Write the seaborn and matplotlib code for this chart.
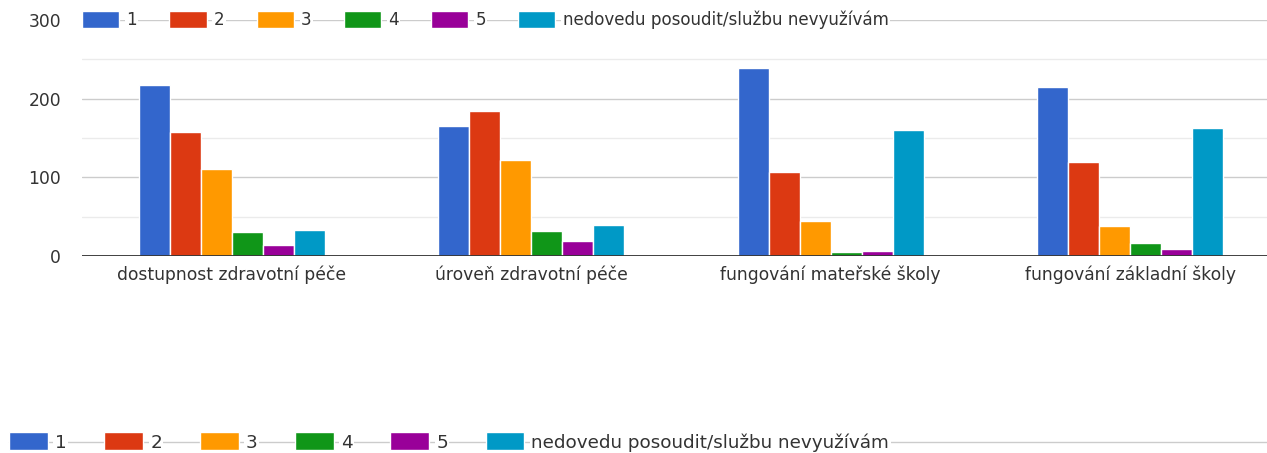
import pandas as pd
import matplotlib.pyplot as plt
import seaborn as sns
from matplotlib.lines import Line2D
from matplotlib.ticker import MultipleLocator

categories = [
    "dostupnost zdravotní péče",
    "úroveň zdravotní péče",
    "fungování mateřské školy",
    "fungování základní školy",
]
ratings = ["1", "2", "3", "4", "5", "nedovedu posoudit/službu nevyužívám"]
colors = ["#3366cc", "#dc3912", "#ff9900", "#109618", "#990099", "#0099c6"]

r1 = [217, 165, 239, 215]
r2 = [158, 184, 107, 119]
r3 = [110, 122, 44, 38]
r4 = [30, 32, 5, 16]
r5 = [14, 19, 6, 9]
r_na = [33, 39, 160, 163]

series = [r1, r2, r3, r4, r5, r_na]
rows = []
for rating, vals in zip(ratings, series):
    for cat, v in zip(categories, vals):
        rows.append({"category": cat, "rating": rating, "count": v})
df = pd.DataFrame(rows)

sns.set_style("white")
plt.rcParams["font.family"] = ["DejaVu Sans"]
text_col = "#333333"

W, H = 1267, 453
fig = plt.figure(figsize=(W / 100, H / 100), dpi=100)
ax = fig.add_axes([82 / W, 1 - 256 / H, 1 - 82 / W, (256 - 20) / H])

sns.barplot(
    data=df, x="category", y="count", hue="rating",
    order=categories, hue_order=ratings, palette=colors,
    width=0.62, edgecolor="white", linewidth=1, saturation=1, ax=ax,
)

ax.set_ylim(0, 300)
ax.set_xlim(-0.5, 3.457)
ax.yaxis.set_major_locator(MultipleLocator(100))
ax.yaxis.set_minor_locator(MultipleLocator(50))
ax.grid(axis="y", which="major", color="#cccccc", lw=1)
ax.grid(axis="y", which="minor", color="#ebebeb", lw=1)
ax.set_axisbelow(True)
ax.axhline(0, color="#333333", lw=1.3, zorder=3)
for s in ax.spines.values():
    s.set_visible(False)
ax.set_xlabel("")
ax.set_ylabel("")
ax.tick_params(axis="x", length=0, pad=7, labelsize=12.3, labelcolor=text_col)
ax.tick_params(axis="y", which="both", length=0, pad=15, labelsize=12.3, labelcolor=text_col)

handles, labels = ax.get_legend_handles_labels()
ax.get_legend().remove()

top = fig.legend(
    handles, labels, loc="center left",
    bbox_to_anchor=(82 / W, 1 - 20 / H), ncol=6, frameon=False,
    fontsize=12.1, borderpad=0, borderaxespad=0,
    handlelength=2.22, handleheight=1.2, handletextpad=0.42, columnspacing=1.92,
)
for t in top.get_texts():
    t.set_color(text_col)
    t.set_bbox(dict(facecolor="white", edgecolor="none", pad=1))

fig.add_artist(Line2D([9 / W, 1], [1 - 442 / H, 1 - 442 / H],
                      transform=fig.transFigure, color="#cccccc", lw=1, zorder=0))
bottom = fig.legend(
    handles, labels, loc="center left",
    bbox_to_anchor=(9 / W, 1 - 442 / H), ncol=6, frameon=False,
    fontsize=13.2, borderpad=0, borderaxespad=0,
    handlelength=2.12, handleheight=1.1, handletextpad=0.38, columnspacing=2.06,
)
for t in bottom.get_texts():
    t.set_color(text_col)
    t.set_bbox(dict(facecolor="white", edgecolor="none", pad=1))

fig.savefig("out.png", dpi=100)
